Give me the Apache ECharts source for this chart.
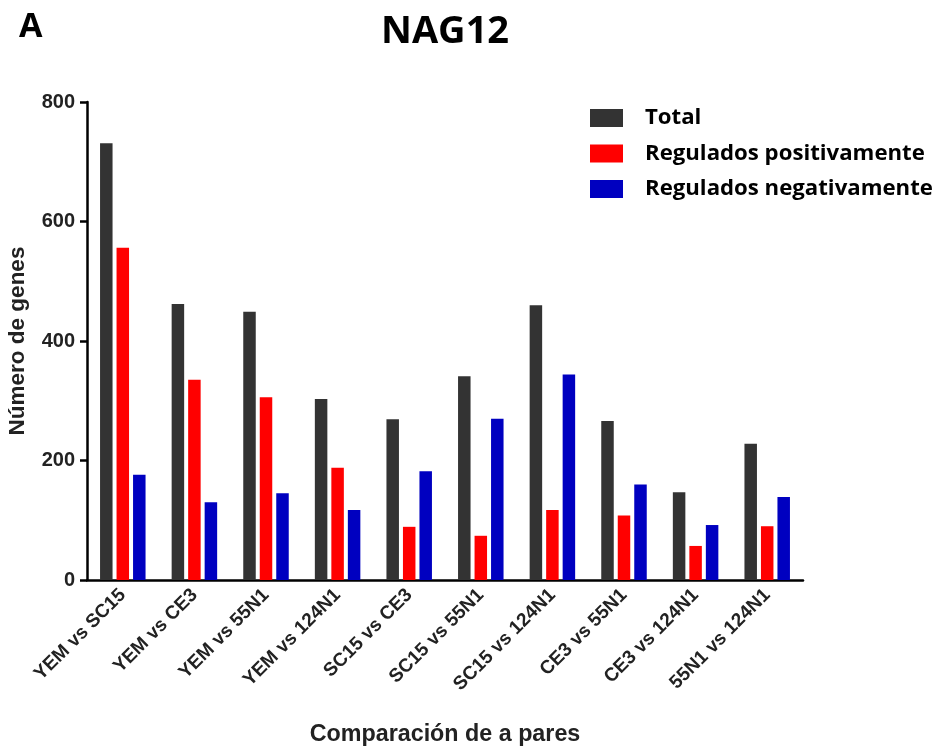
<!DOCTYPE html>
<html><head><meta charset="utf-8">
<script src="https://cdn.jsdelivr.net/npm/echarts@6/dist/echarts.min.js"></script>
<style>html,body{margin:0;padding:0;background:#fff}#c{width:947px;height:749px}</style>
</head><body><div id="c"></div>
<script>
const categories = ['YEM vs SC15','YEM vs CE3','YEM vs 55N1','YEM vs 124N1','SC15 vs CE3','SC15 vs 55N1','SC15 vs 124N1','CE3 vs 55N1','CE3 vs 124N1','55N1 vs 124N1'];
const total = [731, 462, 449, 303, 269, 341, 460, 266, 147, 228];
const positivos = [556, 335, 306, 188, 89, 74, 117, 108, 57, 90];
const negativos = [176, 130, 145, 117, 182, 270, 344, 160, 92, 139];
const seriesNames = ['Total', 'Regulados positivamente', 'Regulados negativamente'];

const chart = echarts.init(document.getElementById('c'));
const barCommon = {type: 'bar', barWidth: 12.5, barGap: '32%'};
chart.setOption({
  animation: false,
  title: [
    {text: 'NAG12', left: 376, top: 8,
     textStyle: {fontFamily: 'Open Sans, sans-serif', fontWeight: 'bold', fontSize: 38, color: '#000'}},
    {text: 'A', left: 14, top: 5,
     textStyle: {fontFamily: 'Open Sans, sans-serif', fontWeight: 'bold', fontSize: 34, color: '#000'}}
  ],
  legend: {
    orient: 'vertical', left: 585, top: 102, itemWidth: 33, itemHeight: 18, itemGap: 13.5,
    icon: 'rect', data: seriesNames,
    textStyle: {fontFamily: 'Open Sans, sans-serif', fontWeight: 'bold', fontSize: 22.2, color: '#000', padding: [0, 0, 0, 17]}
  },
  grid: {left: 87, right: 144, top: 102, bottom: 169, outerBoundsMode: 'none', containLabel: false},
  xAxis: {
    type: 'category', data: categories,
    name: 'Comparación de a pares', nameLocation: 'middle', nameGap: 143,
    nameTextStyle: {fontFamily: 'Liberation Sans, Arial, sans-serif', fontWeight: 'bold', fontSize: 23.3, color: '#222'},
    axisLine: {lineStyle: {color: '#000', width: 2.5}},
    axisTick: {alignWithLabel: true, length: 7, lineStyle: {color: '#000', width: 2.5}},
    axisLabel: {rotate: 45, margin: 12, interval: 0, fontFamily: 'Liberation Sans, Arial, sans-serif', fontWeight: 'bold', fontSize: 19, color: '#222'}
  },
  yAxis: {
    type: 'value', min: 0, max: 800, interval: 200,
    name: 'Número de genes', nameLocation: 'middle', nameGap: 58,
    nameTextStyle: {fontFamily: 'Liberation Sans, Arial, sans-serif', fontWeight: 'bold', fontSize: 22.5, color: '#222'},
    axisLine: {show: true, lineStyle: {color: '#000', width: 2.5}},
    axisTick: {show: true, length: 7, lineStyle: {color: '#000', width: 2.5}},
    splitLine: {show: false},
    axisLabel: {margin: 12, fontFamily: 'Liberation Sans, Arial, sans-serif', fontWeight: 'bold', fontSize: 20, color: '#222'}
  },
  series: [
    Object.assign({name: seriesNames[0], data: total, itemStyle: {color: '#333333'}}, barCommon),
    Object.assign({name: seriesNames[1], data: positivos, itemStyle: {color: '#ff0000'}}, barCommon),
    Object.assign({name: seriesNames[2], data: negativos, itemStyle: {color: '#0000c0'}}, barCommon)
  ]
});
</script></body></html>
